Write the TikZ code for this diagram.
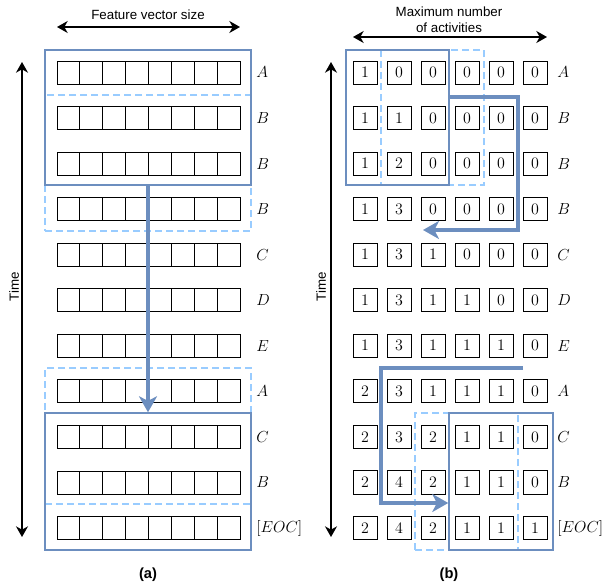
\documentclass[tikz,border=0pt]{standalone}
\usepackage{fontspec}
\setsansfont{Liberation Sans}
\usetikzlibrary{arrows.meta,positioning,fit}
\definecolor{winblue}{HTML}{6C8EBF}
\definecolor{winlight}{HTML}{99CCFF}

\begin{document}
\begin{tikzpicture}[x=0.75pt,y=-0.75pt,>=Stealth,
 cella/.style={draw,line width=0.65pt,minimum width=17.15pt,
 minimum height=17.25pt,inner sep=0pt},
 cellb/.style={draw,line width=0.65pt,minimum width=18pt,
 minimum height=17.3pt,inner sep=0pt,font=\fontsize{12.5}{14}\selectfont},
 lab/.style={anchor=west,inner sep=0pt,font=\fontsize{12}{14}\selectfont},
 win/.style={draw=winblue,line width=1.1pt,inner sep=0pt},
 winmove/.style={draw=winlight,dashed,dash pattern=on 5.25pt off 3pt,
 line width=1.1pt,inner sep=0pt},
 flow/.style={draw=winblue,line width=3pt,
 -{Stealth[length=12pt,width=13.5pt,inset=3.5pt]}},
 axis/.style={line width=1pt,
 {Stealth[length=8pt,width=9pt,inset=2.5pt]}-{Stealth[length=8pt,width=9pt,inset=2.5pt]}},
 note/.style={font=\sffamily\fontsize{10}{12}\selectfont,align=center},
 caption/.style={font=\sffamily\bfseries\fontsize{11}{13}\selectfont}]
\useasboundingbox (0,0) rectangle (604,586);

% (a) one-hot rows
\foreach \lab [count=\r from 0] in {A,B,B,B,C,D,E,A,C,B,{[EOC]}} {
 \foreach \c in {0,...,7}
 \node[cella] (a\r-\c) at ({68.44+22.875*\c},{72.5+45.55*\r}) {};
 \node[lab] (la\r) at (256,{72.5+45.55*\r}) {$\lab$};
}

% (b) count rows
\foreach \vals [count=\r from 0] in {{1,0,0,0,0,0},{1,1,0,0,0,0},
 {1,2,0,0,0,0},{1,3,0,0,0,0},{1,3,1,0,0,0},{1,3,1,1,0,0},
 {1,3,1,1,1,0},{2,3,1,1,1,0},{2,3,2,1,1,0},{2,4,2,1,1,0},
 {2,4,2,1,1,1}} {
 \foreach \v [count=\c from 0] in \vals
 \node[cellb] (b\r-\c) at ({365+34*\c},{72.5+45.55*\r}) {$\v$};
}
\foreach \lab [count=\r from 0] in {A,B,B,B,C,D,E,A,C,B,{[EOC]}}
 \node[lab] (lb\r) at (557,{72.5+45.55*\r}) {$\lab$};

% windows, (a)
\node[winmove,fit={(45,95) (251,231)}] (anext) {};
\node[win,fit={(45,50) (251,185)}] (aold) {};
\node[winmove,fit={(45,368) (251,504)}] (aprev) {};
\node[win,fit={(45,413) (251,550)}] (anew) {};
\draw[flow] (aold.south) -- (anew.north);

% windows, (b)
\node[winmove,fit={(381,50) (484,185)}] (bnext) {};
\node[win,fit={(346,50) (449,185)}] (bold) {};
\node[winmove,fit={(415,413) (518,550)}] (bprev) {};
\node[win,fit={(449,413) (553,550)}] (bnew) {};
\coordinate (turn1) at (518,97);
\coordinate (end1) at (423,230);
\draw[flow] (bold.east |- turn1) -- (turn1) |- (end1);
\coordinate (start2) at (523,368);
\coordinate (turn2) at (381,503);
\draw[flow] (start2) -| (turn2) -- (bnew.west |- turn2);

% axes and captions
\node[note] (fsize) at (148,15) {Feature vector size};
\draw[axis] (57,27) coordinate (fl) -- (240,27) coordinate (fr);
\node[note] (amax) at (449,20) {Maximum number\\of activities};
\draw[axis] (353,37) coordinate (ml) -- (547,37) coordinate (mr);
\draw[axis] (22,62) coordinate (ta) -- (22,537) coordinate (tb);
\node[note,rotate=90] (timea) at (14,287) {Time};
\draw[axis] (331,62) coordinate (tc) -- (331,537) coordinate (td);
\node[note,rotate=90] (timeb) at (321,287) {Time};
\node[caption] (capa) at (148,575) {(a)};
\node[caption] (capb) at (449,575) {(b)};
\end{tikzpicture}
\end{document}
